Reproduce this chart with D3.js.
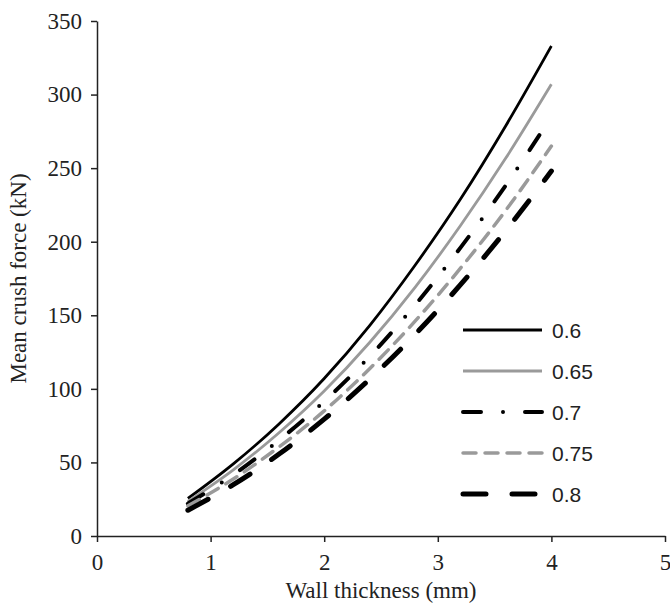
<!DOCTYPE html>
<html lang="en">
<head>
    <meta charset="UTF-8">
    <title>Mean crush force vs wall thickness</title>
    <style>
        body { margin: 0; background: #fff; }
    </style>
</head>
<body>
    <div id="chart"></div>
    <script src="https://d3js.org/d3.v7.min.js"></script>
    <script>
        // wall thickness (mm)
        var thickness = [0.8, 1.2, 1.6, 2.0, 2.4, 2.8, 3.2, 3.6, 4.0];
        // mean crush force (kN) for each series
        var force06  = [25.5, 49, 76, 107, 143, 184, 229, 279, 333];
        var force065 = [23.5, 45, 70, 98.5, 131.5, 169, 211, 257, 307];
        var force07  = [22, 41.6, 65, 91.5, 122, 157, 196, 238.5, 285];
        var force075 = [20.5, 38.7, 60.4, 85, 113.7, 146, 182, 221.5, 265];
        var force08  = [17.5, 34.9, 55.5, 79.4, 106.6, 137, 170.8, 207.7, 248];
        var seriesNames = ['0.6', '0.65', '0.7', '0.75', '0.8'];
        var xTicks = [0, 1, 2, 3, 4, 5];
        var yTicks = [0, 50, 100, 150, 200, 250, 300, 350];

        var seriesValues = [force06, force065, force07, force075, force08];
        var styles = [
            {color: '#000', width: 2.8, dash: null, cap: 'butt'},
            {color: '#9a9a9a', width: 2.8, dash: null, cap: 'butt'},
            {color: '#000', width: 4, dash: '18,22,0,22', cap: 'round'},
            {color: '#9a9a9a', width: 3.5, dash: '13,9', cap: 'round'},
            {color: '#000', width: 5, dash: '23,26', cap: 'round'}
        ];

        var margin = {top: 21, right: 5, bottom: 75, left: 97},
            width = 670 - margin.left - margin.right,
            height = 611 - margin.top - margin.bottom;

        var svg = d3.select('#chart')
            .append('svg')
                .attr('width', width + margin.left + margin.right)
                .attr('height', height + margin.top + margin.bottom)
            .append('g')
                .attr('transform', 'translate(' + margin.left + ',' + margin.top + ')');

        var x = d3.scaleLinear().domain([0, 5]).range([0, width]);
        var y = d3.scaleLinear().domain([0, 350]).range([height, 0]);

        // axes
        var xAxis = svg.append('g')
            .attr('transform', 'translate(0,' + height + ')')
            .call(d3.axisBottom(x).tickValues(xTicks).tickFormat(d3.format('d'))
                .tickSize(6).tickSizeOuter(0).tickPadding(12));

        var yAxis = svg.append('g')
            .call(d3.axisLeft(y).tickValues(yTicks).tickFormat(d3.format('d'))
                .tickSize(6).tickSizeOuter(0).tickPadding(9));

        [xAxis, yAxis].forEach(function(a) {
            a.selectAll('path, line').attr('stroke', '#222').attr('stroke-width', 1.5);
            a.selectAll('text')
                .attr('fill', '#222')
                .style('font-family', '"Liberation Serif", "Times New Roman", serif')
                .style('font-size', '23px');
        });

        svg.append('text')
            .attr('x', width / 2)
            .attr('y', height + 62)
            .attr('text-anchor', 'middle')
            .style('font-family', '"Liberation Serif", "Times New Roman", serif')
            .style('font-size', '23px')
            .attr('fill', '#222')
            .text('Wall thickness (mm)');

        svg.append('text')
            .attr('transform', 'translate(' + (-71) + ',' + (height / 2) + ') rotate(-90)')
            .attr('text-anchor', 'middle')
            .style('font-family', '"Liberation Serif", "Times New Roman", serif')
            .style('font-size', '23px')
            .attr('fill', '#222')
            .text('Mean crush force (kN)');

        // curves
        var line = d3.line()
            .x(function(d) { return x(d[0]); })
            .y(function(d) { return y(d[1]); })
            .curve(d3.curveMonotoneX);

        seriesValues.forEach(function(vals, i) {
            var s = styles[i];
            svg.append('path')
                .datum(thickness.map(function(t, j) { return [t, vals[j]]; }))
                .attr('d', line)
                .attr('fill', 'none')
                .attr('stroke', s.color)
                .attr('stroke-width', s.width)
                .attr('stroke-linecap', s.cap)
                .attr('stroke-dasharray', s.dash);
        });

        // legend
        var legend = svg.append('g')
            .attr('transform', 'translate(' + (463 - margin.left) + ',' + (330 - margin.top) + ')')
            .selectAll('.legend')
            .data(seriesNames)
            .enter().append('g')
            .attr('class', 'legend')
            .attr('transform', function(d, i) { return 'translate(0,' + i * 41 + ')'; });

        legend.append('line')
            .attr('x1', 0)
            .attr('x2', 79)
            .attr('stroke', function(d, i) { return styles[i].color; })
            .attr('stroke-width', function(d, i) { return styles[i].width; })
            .attr('stroke-linecap', function(d, i) { return styles[i].cap; })
            .attr('stroke-dasharray', function(d, i) { return styles[i].dash; });

        legend.append('text')
            .attr('x', 89)
            .attr('y', 8)
            .style('font-family', '"Liberation Sans", Arial, sans-serif')
            .style('font-size', '21px')
            .attr('fill', '#222')
            .text(function(d) { return d; });
    </script>
</body>
</html>
